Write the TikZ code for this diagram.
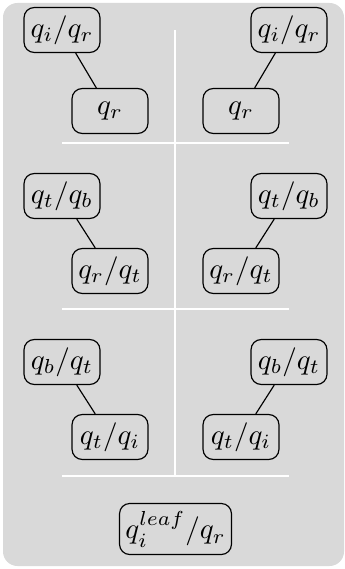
\documentclass[tikz,border=0pt]{standalone}
\begin{document}
\begin{tikzpicture}[x=0.345pt,y=-0.345pt,
  box/.style={draw,rounded corners=3.5pt,minimum width=26.2pt,minimum height=15.5pt,inner sep=2pt},
  bigbox/.style={box,minimum width=37.6pt,minimum height=17.6pt},
  sep/.style={white,line width=0.4pt},
  link/.style={draw,line width=0.4pt}]
\useasboundingbox (0,0) rectangle (344,569);
\fill[black!15,rounded corners=5pt] (3,3) rectangle (344,566);
% separators
\coordinate (vt) at (175,30);
\coordinate (vb) at (175,476);
\draw[sep] (vt) -- (vb);
\coordinate (h1l) at (62,143); \coordinate (h1r) at (289,143);
\coordinate (h2l) at (62,309); \coordinate (h2r) at (289,309);
\coordinate (h3l) at (62,476); \coordinate (h3r) at (289,476);
\draw[sep] (h1l) -- (h1r);
\draw[sep] (h2l) -- (h2r);
\draw[sep] (h3l) -- (h3r);
% row 1
\node[box] (a1) at (62,30) {$q_i/q_r$};
\node[box] (a2) at (110,111) {$q_r$};
\node[box] (b1) at (289,30) {$q_i/q_r$};
\node[box] (b2) at (241,111) {$q_r$};
% row 2
\node[box] (c1) at (62,196) {$q_t/q_b$};
\node[box] (c2) at (110,271) {$q_r/q_t$};
\node[box] (d1) at (289,196) {$q_t/q_b$};
\node[box] (d2) at (241,271) {$q_r/q_t$};
% row 3
\node[box] (e1) at (62,362) {$q_b/q_t$};
\node[box] (e2) at (110,437) {$q_t/q_i$};
\node[box] (f1) at (289,362) {$q_b/q_t$};
\node[box] (f2) at (241,437) {$q_t/q_i$};
% bottom
\node[bigbox] (g) at (175.5,529) {$q_i^{leaf}/q_r$};
% links
\draw[link] (a1) -- (a2);
\draw[link] (b1) -- (b2);
\draw[link] (c1) -- (c2);
\draw[link] (d1) -- (d2);
\draw[link] (e1) -- (e2);
\draw[link] (f1) -- (f2);
\end{tikzpicture}
\end{document}
